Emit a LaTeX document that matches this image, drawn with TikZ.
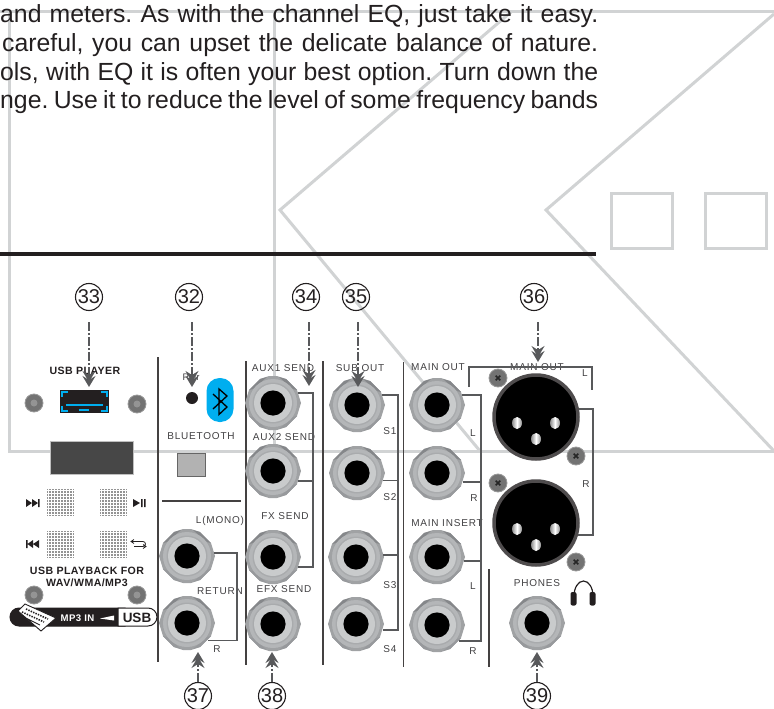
\documentclass[tikz,border=0pt]{standalone}
\usepackage{fontspec}
\setmainfont{Liberation Sans}
\newfontfamily\lblfont[LetterSpace=8]{Liberation Sans}
\newfontfamily\blbfont[LetterSpace=4]{Liberation Sans}
\usetikzlibrary{arrows.meta,shapes.geometric}
\definecolor{bgline}{HTML}{D1D3D4}
\definecolor{ink}{HTML}{231F20}
\definecolor{wirec}{HTML}{58595B}
\definecolor{lblc}{HTML}{414042}
\definecolor{blueb}{HTML}{00AEEF}
\definecolor{jo}{HTML}{A0A2A4}
\definecolor{jd}{HTML}{85878A}
\definecolor{jm}{HTML}{A9ABAD}
\definecolor{jr}{HTML}{B4B6B8}
\definecolor{jl}{HTML}{C9CBCC}
\tikzset{
  bgl/.style={draw=bgline,line width=3pt,line join=miter},
  wire/.style={draw=wirec,line width=1.8pt,line join=miter},
  sep/.style={draw=ink!85,line width=1.3pt},
  lbl/.style={font=\lblfont\fontsize{10}{10}\selectfont,text=lblc,inner sep=0pt},
  blbl/.style={font=\blbfont\bfseries\fontsize{10.6}{12}\selectfont,text=ink,inner sep=0pt,align=center},
  num/.style={circle,draw=ink,line width=1.1pt,minimum size=27pt,inner sep=0pt,font=\fontsize{20}{20}\selectfont,text=ink},
  jacknode/.style={circle,minimum size=54pt,inner sep=0pt},
  xlrnode/.style={circle,fill=black,draw=ink!80,line width=3.5pt,minimum size=84pt,inner sep=0pt},
  callout/.style={draw=wirec,line width=2pt,dash pattern=on 9pt off 2pt on 2pt off 2pt,shorten <=11pt,
    -{Stealth[length=11pt,width=13pt,inset=4pt,sep=-6pt]Stealth[length=11pt,width=13pt,inset=4pt]}},
  body/.style={inner sep=0pt,font=\frenchspacing\fontsize{24.8}{26}\selectfont,text=ink,anchor=base west},
  pin/.style={ellipse,minimum width=10pt,minimum height=12pt,inner sep=0pt,left color=black!45,right color=black!45,middle color=white}
}
\newcommand{\mkjack}[3]{%
  \begin{scope}[shift={(#2,#3)}]
    \fill[jo] (-28,0)--(-24,-13)--(-13,-24)--(-4,-27)--(4,-27)--(13,-24)--(24,-13)--(28,0)--(24,13)--(13,24)--(4,27)--(-4,27)--(-13,24)--(-24,13)--cycle;
    \fill[jd] (-24,-13)--(-13,-24)--(-6,-26)--(-20,-14)--cycle;
    \fill[jd] (24,-13)--(13,-24)--(6,-26)--(20,-14)--cycle;
    \fill[jd!85] (24,13)--(13,24)--(6,26)--(20,14)--cycle;
    \fill[jd!85] (-24,13)--(-13,24)--(-6,26)--(-20,14)--cycle;
    \fill[jr] (0,0) circle (24pt);
    \fill[jm] (0,0) circle (20.5pt);
    \fill[jl] (0,0) circle (19pt);
    \fill[black] (0,0) circle (12.6pt);
  \end{scope}
  \node[jacknode] (#1) at (#2,#3) {};}
\newcommand{\mkscrew}[3]{%
  \node[circle,fill=black!55,draw=black!40,line width=.8pt,minimum size=18pt,inner sep=0pt] (#1) at (#2,#3) {};
  \fill[black!42] (#2,#3) circle (3.5pt);}
\newcommand{\mkxscrew}[3]{%
  \node[circle,fill=black!55,draw=black!40,line width=.8pt,minimum size=18pt,inner sep=0pt] (#1) at (#2,#3) {};
  \draw[black!85,line width=1.6pt] ([shift={(-2.3,-2.3)}]#1.center) -- ([shift={(2.3,2.3)}]#1.center) ([shift={(-2.3,2.3)}]#1.center) -- ([shift={(2.3,-2.3)}]#1.center);}
\newcommand{\mkgrid}[2]{%
  \fill[black!42] (#1,#2) rectangle ++(27,27);
  \foreach \d in {1.5,4.5,...,27} {\draw[white,line width=.7pt] (#1+\d,#2) -- ++(0,27);\draw[white,line width=.7pt] (#1,#2+\d) -- ++(27,0);}}
\newcommand{\mkxlr}[3]{%
  \node[xlrnode] (#1) at (#2,#3) {};
  \node[pin] (#1a) at (#2-19,#3+6) {};
  \node[pin] (#1b) at (#2+19,#3+6) {};
  \node[pin] (#1c) at (#2,#3+22) {};}
\begin{document}
\begin{tikzpicture}[x=1pt,y=-1pt]
\useasboundingbox (0,0) rectangle (774,709);
\clip (0,0) rectangle (774,709);
% background outline
\draw[bgl] (0,12) -- (774,12);
\draw[bgl] (9,12) -- (9,451) -- (774,451);
\draw[bgl] (274,12) -- (274,451);
\draw[bgl] (511,12) -- (280,210) -- (480,451);
\draw[bgl] (774,14) -- (546,210) -- (774,451);
\draw[bgl] (611,193) rectangle (672,248);
\draw[bgl] (705,193) rectangle (766,248);
% body text
\node[body] (t1) at (0,23) {\makebox[598pt][s]{and meters. As with the channel EQ, just take it easy.}};
\node[body] (t2) at (2,52) {\makebox[596pt][s]{careful, you can upset the delicate balance of nature.}};
\node[body] (t3) at (0,80.5) {\makebox[598pt][s]{ols, with EQ it is often your best option. Turn down the}};
\node[body] (t4) at (0,109) {\makebox[598pt][s]{nge. Use it to reduce the level of some frequency bands}};
\fill[ink] (0,252) rectangle (596,256);
% separators
\coordinate (s1a) at (158,357); \coordinate (s1b) at (158,662);
\coordinate (s2a) at (246,361); \coordinate (s2b) at (246,665);
\coordinate (s3a) at (323,361); \coordinate (s3b) at (323,665);
\coordinate (s4a) at (403.5,362); \coordinate (s4b) at (403.5,667);
\coordinate (s5a) at (489,569); \coordinate (s5b) at (489,667);
\coordinate (s6a) at (162,501); \coordinate (s6b) at (241,501);
\draw[sep] (s1a)--(s1b); \draw[sep] (s2a)--(s2b); \draw[sep] (s3a)--(s3b);
\draw[sep] (s4a)--(s4b); \draw[sep] (s5a)--(s5b); \draw[sep] (s6a)--(s6b);
% USB player panel
\mkscrew{sc1}{34}{403}\mkscrew{sc2}{137}{404}\mkscrew{sc3}{34}{595}\mkscrew{sc4}{137}{595}
\fill[ink] (60,390) rectangle (109,413);
\draw[blueb,line width=1.3pt] (62,397)--(62,392)--(68,392) (101,392)--(107,392)--(107,397) (62,406)--(62,411)--(68,411) (101,411)--(107,411)--(107,406) (66,405)--(103,405) (79,410)--(89,410);
\draw[black!25,line width=1pt,fill=black!72] (50.5,441) rectangle (133.5,474);
\mkgrid{47}{489}\mkgrid{100}{489}\mkgrid{47}{531}\mkgrid{100}{531}
% transport icons
\fill[ink] (26,499)--(32,503)--(26,507)--cycle (32,499)--(38,503)--(32,507)--cycle (38,499) rectangle (39.5,507);
\fill[ink] (133,499)--(140,503)--(133,507)--cycle (141,499) rectangle (142.5,507) (144,499) rectangle (145.5,507);
\fill[ink] (26,540) rectangle (27.5,548) (33,540)--(27.5,544)--(33,548)--cycle (39,540)--(33,544)--(39,548)--cycle;
\draw[ink,line width=.8pt] (134,539.5)--(131,541.5)--(134,543.5) (131,541.5)--(143,541.5) arc (90:-90:2.5pt) -- (134,546.5) (143,544.5)--(146,546.5)--(143,548.5);
\node[blbl] (usbp) at (85,371) {USB PLAYER};
\node[blbl] (usbf) at (87,577) {USB PLAYBACK FOR\\WAV/WMA/MP3};
% MP3 IN strip
\path[fill=ink,draw=ink,line width=1pt] (19,608) -- (125,608) -- (125,626) -- (19,626) arc (270:90:9pt) -- cycle;
\path[fill=white,draw=ink,line width=1pt] (118,608) -- (148,608) arc (90:-90:9pt) -- (118,626) -- cycle;
\fill[white] (18,611)--(25,604)--(56,618)--(41,631)--cycle;
\draw[ink,line width=1.6pt,dash pattern=on 1.4pt off 1.2pt] (26,609)--(48,619) (22,612)--(44,622);
\draw[ink,line width=.9pt] (22,616)--(40,625) (18,611)--(25,604)--(56,618)--(41,631)--cycle;
\node[inner sep=0pt,font=\blbfont\bfseries\fontsize{9.6}{10}\selectfont,text=white] (mp3) at (77.5,618) {MP3 IN};
\fill[white] (100,618.5)--(114,615.5)--(114,620.5)--cycle;
\node[inner sep=0pt,font=\bfseries\fontsize{13.5}{14}\selectfont,text=ink] (usb) at (137,617.5) {USB};
% bluetooth
\node[inner sep=0pt,font=\fontsize{9.5}{10}\selectfont,text=lblc] (pair) at (191,377) {Pair};
\fill[ink] (192,398) circle (6pt);
\fill[blueb,rounded corners=13pt] (206.5,378) rectangle (233.5,422);
\draw[black,line width=1.3pt,line join=miter] (213,394)--(227,407)--(219,414.5)--(219,389)--(227,396)--(213,409);
\node[lbl] (btl) at (201,436) {BLUETOOTH};
\fill[black!30,draw=black!60,line width=.6pt] (177,453) rectangle (205,476);
% jacks
\mkjack{ret1}{187}{556}\mkjack{ret2}{187}{623}
\mkjack{aux1}{273}{403}\mkjack{aux2}{273}{471}\mkjack{fxs}{273}{557}\mkjack{efx}{273}{624}
\mkjack{sub1}{357}{405}\mkjack{sub2}{357}{473}\mkjack{sub3}{356}{557}\mkjack{sub4}{356}{624}
\mkjack{mo1}{437}{405}\mkjack{mo2}{437}{473}\mkjack{ins1}{437}{557}\mkjack{ins2}{437}{625}
\mkjack{phn}{537}{623}
% XLR
\mkxlr{xl}{536}{417}\mkxlr{xr}{536}{523}
\mkxscrew{xs1}{498}{378}\mkxscrew{xs2}{576}{456}\mkxscrew{xs3}{498}{483}\mkxscrew{xs4}{576}{562}
% headphones
\draw[ink,line width=1.2pt] (574,596) arc (180:0:9.5pt and 15pt);
\fill[ink,rounded corners=2pt] (570.5,592) rectangle (576.5,605.5) (589.5,592) rectangle (595.5,605.5);
% labels
\node[lbl] (a1) at (283,368) {AUX1 SEND};
\node[lbl] (a2) at (284,437) {AUX2 SEND};
\node[lbl] (a3) at (285,516) {FX SEND};
\node[lbl] (a4) at (284,589.5) {EFX SEND};
\node[lbl] (b0) at (360,368) {SUB OUT};
\node[lbl] (b1) at (390,431) {S1};
\node[lbl] (b2) at (390,497) {S2};
\node[lbl] (b3) at (390,585) {S3};
\node[lbl] (b4) at (390,649) {S4};
\node[lbl] (c0) at (438,367) {MAIN OUT};
\node[lbl] (c1) at (473,433) {L};
\node[lbl] (c2) at (474,498) {R};
\node[lbl] (c3) at (447,523) {MAIN INSERT};
\node[lbl] (c4) at (473,586) {L};
\node[lbl] (c5) at (473,651) {R};
\node[lbl] (d0) at (537,367) {MAIN OUT};
\node[lbl] (d1) at (585,373) {L};
\node[lbl] (d2) at (586,484) {R};
\node[lbl] (d3) at (537,583) {PHONES};
\node[lbl] (e1) at (220,521) {L(MONO)};
\node[lbl] (e2) at (220,591) {RETURN};
\node[lbl] (e3) at (217,649) {R};
% brackets
\coordinate (busA) at (313,0); \coordinate (busS) at (398,0); \coordinate (busM) at (481,0);
\coordinate (busR) at (237,0); \coordinate (busX) at (593,0);
\draw[wire] (ret1.6) -| (busR |- ret2.-40) -- (ret2.-40);
\draw[wire] (aux1.22) -| (busA |- fxs.-22) -- (fxs.-22);
\draw[wire] (aux2.-22) -- (busA |- aux2.-22);
\draw[wire] (sub1.22) -| (busS |- sub4.-12) -- (sub4.-12);
\draw[wire] (sub2.-16) -- (busS |- sub2.-16);
\draw[wire] (sub3.5) -- (busS |- sub3.5);
\draw[wire] (mo1.22) -| (busM |- ins2.-36) -- (ins2.-36);
\draw[wire] (mo2.-20) -- (busM |- mo2.-20);
\draw[wire] (ins1.-8) -- (busM |- ins1.-8);
\coordinate (xb1) at (469,387); \coordinate (xb2) at (592,390);
\draw[wire] (xb1) |- (537,367) -| (xb2);
\draw[wire] (xl.11) -| (busX |- xr.-16) -- (xr.-16);
% callouts
\node[num] (n33) at (89,297) {33};
\node[num] (n32) at (189,297) {32};
\node[num] (n34) at (306,297) {34};
\node[num] (n35) at (356,297) {35};
\node[num] (n36) at (534,297) {36};
\node[num] (n37) at (198,696) {37};
\node[num] (n38) at (272,696) {38};
\node[num] (n39) at (537,696) {39};
\coordinate (p33) at (89,387); \coordinate (p32) at (192,387); \coordinate (p34) at (309,386);
\coordinate (p35) at (358,387); \coordinate (p36) at (538,362);
\coordinate (p37) at (198,652); \coordinate (p38) at (272,652); \coordinate (p39) at (537,652);
\draw[callout] (n33.south -| p33) -- (p33);
\draw[callout] (n32.south -| p32) -- (p32);
\draw[callout] (n34.south -| p34) -- (p34);
\draw[callout] (n35.south -| p35) -- (p35);
\draw[callout] (n36.south -| p36) -- (p36);
\draw[callout,shorten <=0pt] (n37.north -| p37) -- (p37);
\draw[callout,shorten <=0pt] (n38.north -| p38) -- (p38);
\draw[callout,shorten <=0pt] (n39.north -| p39) -- (p39);
\end{tikzpicture}
\end{document}
